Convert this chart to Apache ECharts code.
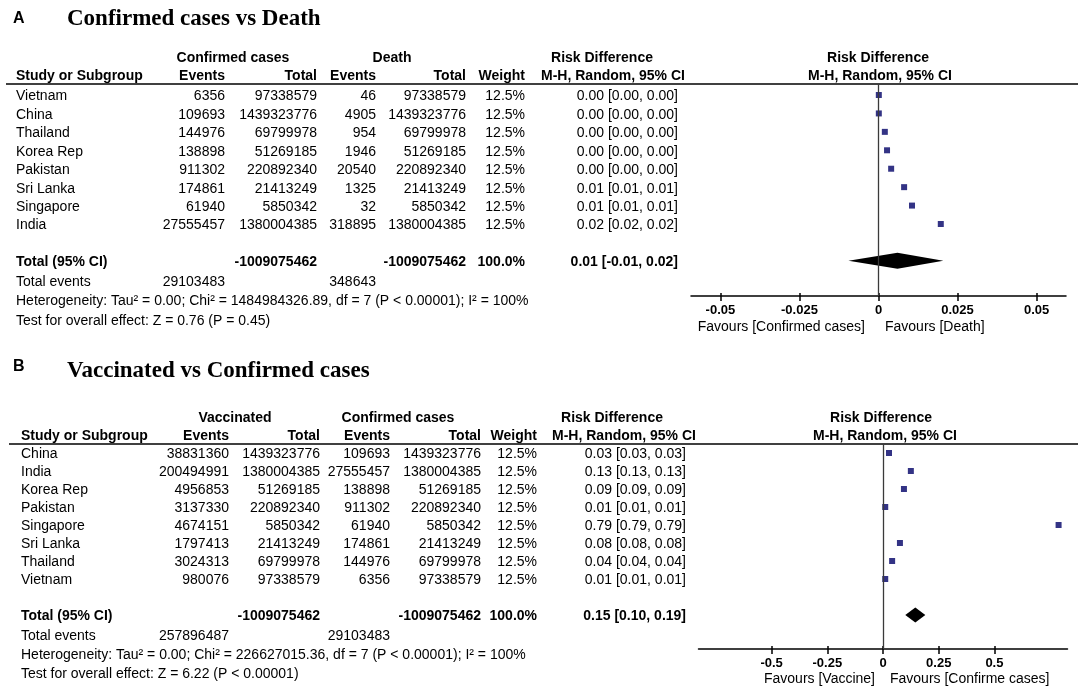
<!DOCTYPE html>
<html><head><meta charset="utf-8">
<script src="https://cdn.jsdelivr.net/npm/echarts@6/dist/echarts.min.js"></script>
<style>html,body{margin:0;padding:0;background:#fff}#c{width:1084px;height:693px}</style>
</head><body><div id="c"></div>
<script>
// ---------- Panel A data: Confirmed cases vs Death ----------
const studiesA = ['Vietnam','China','Thailand','Korea Rep','Pakistan','Sri Lanka','Singapore','India'];
const confEventsA = [6356,109693,144976,138898,911302,174861,61940,27555457];
const confTotalA = [97338579,1439323776,69799978,51269185,220892340,21413249,5850342,1380004385];
const deathEventsA = [46,4905,954,1946,20540,1325,32,318895];
const deathTotalA = [97338579,1439323776,69799978,51269185,220892340,21413249,5850342,1380004385];
const weightA = ['12.5%','12.5%','12.5%','12.5%','12.5%','12.5%','12.5%','12.5%'];
const ciTextA = ['0.00 [0.00, 0.00]','0.00 [0.00, 0.00]','0.00 [0.00, 0.00]','0.00 [0.00, 0.00]','0.00 [0.00, 0.00]','0.01 [0.01, 0.01]','0.01 [0.01, 0.01]','0.02 [0.02, 0.02]'];
const rdA = [0.0001,0.0001,0.0020,0.0027,0.0040,0.0081,0.0106,0.0197];
const pooledA = [0.006,-0.0095,0.0205];          // estimate, lower, upper
const totalsA = ['-1009075462','-1009075462','100.0%','0.01 [-0.01, 0.02]'];
const totalEventsA = ['29103483','348643'];
const hetA = 'Heterogeneity: Tau\u00b2 = 0.00; Chi\u00b2 = 1484984326.89, df = 7 (P < 0.00001); I\u00b2 = 100%';
const testA = 'Test for overall effect: Z = 0.76 (P = 0.45)';
const ticksA = [-0.05,-0.025,0,0.025,0.05];
const tickLabelsA = ['-0.05','-0.025','0','0.025','0.05'];

// ---------- Panel B data: Vaccinated vs Confirmed cases ----------
const studiesB = ['China','India','Korea Rep','Pakistan','Singapore','Sri Lanka','Thailand','Vietnam'];
const vacEventsB = [38831360,200494991,4956853,3137330,4674151,1797413,3024313,980076];
const vacTotalB = [1439323776,1380004385,51269185,220892340,5850342,21413249,69799978,97338579];
const confEventsB = [109693,27555457,138898,911302,61940,174861,144976,6356];
const confTotalB = [1439323776,1380004385,51269185,220892340,5850342,21413249,69799978,97338579];
const weightB = ['12.5%','12.5%','12.5%','12.5%','12.5%','12.5%','12.5%','12.5%'];
const ciTextB = ['0.03 [0.03, 0.03]','0.13 [0.13, 0.13]','0.09 [0.09, 0.09]','0.01 [0.01, 0.01]','0.79 [0.79, 0.79]','0.08 [0.08, 0.08]','0.04 [0.04, 0.04]','0.01 [0.01, 0.01]'];
const rdB = [0.027,0.125,0.094,0.010,0.788,0.076,0.041,0.010];
const pooledB = [0.145,0.10,0.19];
const totalsB = ['-1009075462','-1009075462','100.0%','0.15 [0.10, 0.19]'];
const totalEventsB = ['257896487','29103483'];
const hetB = 'Heterogeneity: Tau\u00b2 = 0.00; Chi\u00b2 = 226627015.36, df = 7 (P < 0.00001); I\u00b2 = 100%';
const testB = 'Test for overall effect: Z = 6.22 (P < 0.00001)';
const ticksB = [-0.5,-0.25,0,0.25,0.5];
const tickLabelsB = ['-0.5','-0.25','0','0.25','0.5'];

// ---------- layout ----------
const SANS = '"Liberation Sans", Arial, sans-serif';
const SERIF = '"Liberation Serif", "Times New Roman", serif';
const FS = 14;
const TEXT_DY = 1.5;

const layoutA = {
  cols:{name:16,e1:225,t1:317,e2:376,t2:466,w:525,ci:678},
  top:84, height:212, yMin:-0.597, yMax:10.906,
  plotLeft:691, plotWidth:375, xMin:-0.0593, xMax:0.0593
};
const layoutB = {
  cols:{name:21,e1:229,t1:320,e2:390,t2:481,w:537,ci:686},
  top:444, height:205, yMin:-0.5, yMax:10.889,
  plotLeft:698.5, plotWidth:369, xMin:-0.828, xMax:0.828
};

function buildCells(L, studies, e1, t1, e2, t2, w, ci, totals, tev, het, test) {
  const c = L.cols, cells = [];
  studies.forEach((s, i) => {
    cells.push({x:c.name, r:i, t:s, a:'left'});
    cells.push({x:c.e1, r:i, t:String(e1[i]), a:'right'});
    cells.push({x:c.t1, r:i, t:String(t1[i]), a:'right'});
    cells.push({x:c.e2, r:i, t:String(e2[i]), a:'right'});
    cells.push({x:c.t2, r:i, t:String(t2[i]), a:'right'});
    cells.push({x:c.w, r:i, t:w[i], a:'right'});
    cells.push({x:c.ci, r:i, t:ci[i], a:'right'});
  });
  cells.push({x:c.name, r:9, t:'Total (95% CI)', a:'left', b:true});
  cells.push({x:c.t1, r:9, t:totals[0], a:'right', b:true});
  cells.push({x:c.t2, r:9, t:totals[1], a:'right', b:true});
  cells.push({x:c.w, r:9, t:totals[2], a:'right', b:true});
  cells.push({x:c.ci, r:9, t:totals[3], a:'right', b:true});
  cells.push({x:c.name, r:10.08, t:'Total events', a:'left'});
  cells.push({x:c.e1, r:10.08, t:tev[0], a:'right'});
  cells.push({x:c.e2, r:10.08, t:tev[1], a:'right'});
  cells.push({x:c.name, r:11.12, t:het, a:'left'});
  cells.push({x:c.name, r:12.2, t:test, a:'left'});
  return cells;
}

const cellsA = buildCells(layoutA, studiesA, confEventsA, confTotalA, deathEventsA, deathTotalA, weightA, ciTextA, totalsA, totalEventsA, hetA, testA);
const cellsB = buildCells(layoutB, studiesB, vacEventsB, vacTotalB, confEventsB, confTotalB, weightB, ciTextB, totalsB, totalEventsB, hetB, testB);

function tableSeries(cells, xi, yi) {
  return {
    type:'custom', xAxisIndex:xi, yAxisIndex:yi, silent:true, clip:false,
    data: cells.map(c => [c.x, c.r]),
    encode:{x:0, y:1},
    renderItem: function(params, api) {
      const cell = cells[params.dataIndex];
      const p = api.coord([api.value(0), api.value(1)]);
      return {type:'text', x:p[0], y:p[1] + TEXT_DY, style:{
        text:cell.t, x:0, y:0, align:cell.a, verticalAlign:'middle',
        fontSize:FS, fontFamily:SANS, fontWeight:cell.b ? 'bold' : 'normal', fill:'#000'}};
    }
  };
}

function pointSeries(vals, xi, yi) {
  return {
    type:'scatter', xAxisIndex:xi, yAxisIndex:yi, silent:true,
    symbol:'rect', symbolSize:6, itemStyle:{color:'#000066'},
    data: vals.map((v, i) => [v, i]),
    markLine:{silent:true, symbol:['none','none'], label:{show:false},
      lineStyle:{color:'#3a3a3a', width:1.3, type:'solid'}, emphasis:{disabled:true},
      data:[{xAxis:0}]}
  };
}

function diamondSeries(pooled, xi, yi, half) {
  return {
    type:'custom', xAxisIndex:xi, yAxisIndex:yi, silent:true,
    data:[[pooled[0], pooled[1], pooled[2], 9]],
    encode:{x:[0,1,2], y:3},
    renderItem: function(params, api) {
      const r = api.value(3);
      const c = api.coord([api.value(0), r]);
      const l = api.coord([api.value(1), r]);
      const h = api.coord([api.value(2), r]);
      return {type:'polygon', shape:{points:[[l[0],c[1]],[c[0],c[1]-half],[h[0],c[1]],[c[0],c[1]+half]]},
        style:{fill:'#000'}};
    }
  };
}

function grids(L) {
  return [
    {left:0, width:1084, top:L.top, height:L.height, outerBoundsMode:'none', containLabel:false, show:false},
    {left:L.plotLeft, width:L.plotWidth, top:L.top, height:L.height, outerBoundsMode:'none', containLabel:false, show:false}
  ];
}
function xAxes(L, gi, ticks, labels) {
  return [
    {type:'value', gridIndex:gi, min:0, max:1084, show:false},
    {type:'value', gridIndex:gi+1, min:L.xMin, max:L.xMax, position:'bottom',
      splitLine:{show:false},
      axisLine:{show:true, onZero:false, lineStyle:{color:'#000', width:1.5}},
      axisTick:{show:true, inside:false, length:5, customValues:ticks, lineStyle:{color:'#000', width:1.5}},
      axisLabel:{show:true, margin:8, customValues:ticks, color:'#000', fontSize:13, fontWeight:'bold', fontFamily:SANS,
        formatter: v => { const k = ticks.findIndex(t => Math.abs(t - v) < 1e-9); return k >= 0 ? labels[k] : ''; }}},
    // inner half of the crossing ticks
    {type:'value', gridIndex:gi+1, min:L.xMin, max:L.xMax, position:'bottom',
      splitLine:{show:false}, axisLine:{show:false, onZero:false}, axisLabel:{show:false},
      axisTick:{show:true, inside:true, length:3, customValues:ticks, lineStyle:{color:'#000', width:1.5}}}
  ];
}
function yAxes(L, gi) {
  return [
    {type:'value', gridIndex:gi, min:L.yMin, max:L.yMax, inverse:true, show:false},
    {type:'value', gridIndex:gi+1, min:L.yMin, max:L.yMax, inverse:true, show:false}
  ];
}

function txt(x, y, t, o) {
  o = o || {};
  return {type:'text', x:x, y:y, silent:true, style:{text:t, align:o.a || 'center', verticalAlign:'middle',
    fontSize:o.fs || FS, fontFamily:o.ff || SANS, fontWeight:o.fw || 'bold', fill:'#000'}};
}
function hline(x1, x2, y) {
  return {type:'line', silent:true, shape:{x1:x1, y1:y, x2:x2, y2:y}, style:{stroke:'#000', lineWidth:1.5}};
}

const cA = layoutA.cols, cB = layoutB.cols;
const graphics = [
  // Panel A
  txt(13, 18.5, 'A', {a:'left', fs:16}),
  txt(67, 19, 'Confirmed cases vs Death', {a:'left', fs:23, ff:SERIF}),
  txt(233, 58, 'Confirmed cases'),
  txt(392, 58, 'Death'),
  txt(602, 58, 'Risk Difference'),
  txt(878, 58, 'Risk Difference'),
  txt(cA.name, 76.5, 'Study or Subgroup', {a:'left'}),
  txt(cA.e1, 76.5, 'Events', {a:'right'}),
  txt(cA.t1, 76.5, 'Total', {a:'right'}),
  txt(cA.e2, 76.5, 'Events', {a:'right'}),
  txt(cA.t2, 76.5, 'Total', {a:'right'}),
  txt(cA.w, 76.5, 'Weight', {a:'right'}),
  txt(613, 76.5, 'M-H, Random, 95% CI'),
  txt(880, 76.5, 'M-H, Random, 95% CI'),
  hline(6, 1078, 84),
  txt(865, 327, 'Favours [Confirmed cases]', {a:'right', fw:'normal'}),
  txt(885, 327, 'Favours [Death]', {a:'left', fw:'normal'}),
  // Panel B
  txt(13, 367, 'B', {a:'left', fs:16}),
  txt(67, 371, 'Vaccinated vs Confirmed cases', {a:'left', fs:23, ff:SERIF}),
  txt(235, 418, 'Vaccinated'),
  txt(398, 418, 'Confirmed cases'),
  txt(612, 418, 'Risk Difference'),
  txt(881, 418, 'Risk Difference'),
  txt(cB.name, 436, 'Study or Subgroup', {a:'left'}),
  txt(cB.e1, 436, 'Events', {a:'right'}),
  txt(cB.t1, 436, 'Total', {a:'right'}),
  txt(cB.e2, 436, 'Events', {a:'right'}),
  txt(cB.t2, 436, 'Total', {a:'right'}),
  txt(cB.w, 436, 'Weight', {a:'right'}),
  txt(624, 436, 'M-H, Random, 95% CI'),
  txt(885, 436, 'M-H, Random, 95% CI'),
  hline(9, 1078, 444),
  txt(875, 679, 'Favours [Vaccine]', {a:'right', fw:'normal'}),
  txt(890, 679, 'Favours [Confirme cases]', {a:'left', fw:'normal'})
];

const chart = echarts.init(document.getElementById('c'));
chart.setOption({
  animation:false,
  backgroundColor:'#fff',
  grid: grids(layoutA).concat(grids(layoutB)),
  xAxis: xAxes(layoutA, 0, ticksA, tickLabelsA).concat(xAxes(layoutB, 2, ticksB, tickLabelsB)),
  yAxis: yAxes(layoutA, 0).concat(yAxes(layoutB, 2)),
  series: [
    tableSeries(cellsA, 0, 0),
    pointSeries(rdA, 1, 1),
    diamondSeries(pooledA, 1, 1, 8),
    tableSeries(cellsB, 3, 2),
    pointSeries(rdB, 4, 3),
    diamondSeries(pooledB, 4, 3, 7.5)
  ],
  graphic: graphics
});
</script>
</body></html>
